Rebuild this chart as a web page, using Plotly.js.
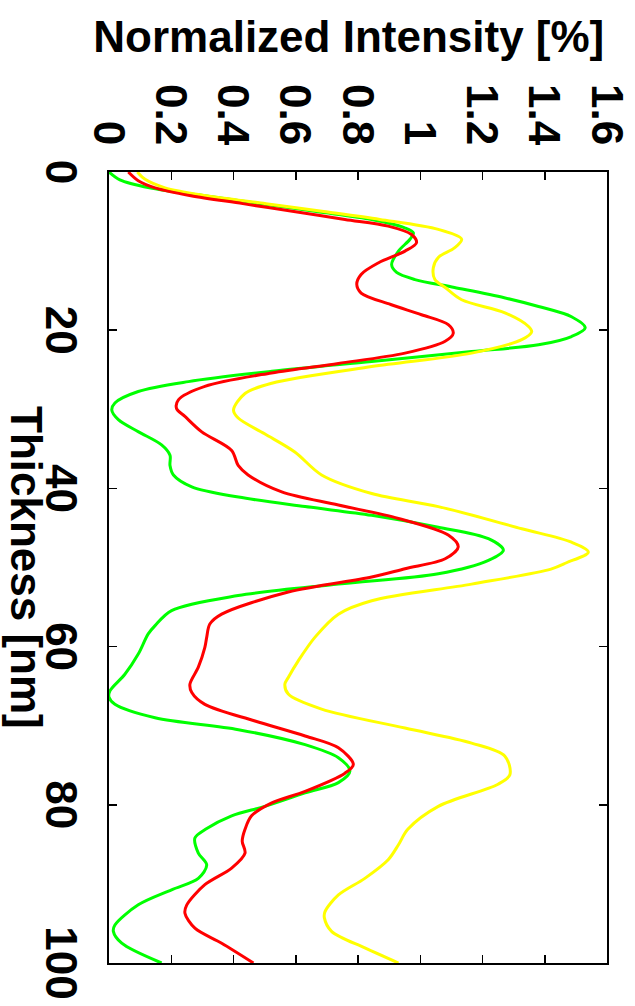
<!DOCTYPE html>
<html>
<head>
<meta charset="utf-8">
<script src="https://cdn.plot.ly/plotly-3.0.1.min.js"></script>
<style>
  html, body { margin: 0; padding: 0; background: #ffffff; width: 635px; height: 1006px; overflow: hidden; }
  #chart { position: absolute; left: 0; top: 0; width: 1006px; height: 635px;
           transform-origin: 0 0; transform: translate(635px, 0) rotate(90deg); }
</style>
</head>
<body>
<div id="chart"></div>
<script>
// Data (Thickness in nm, Normalized Intensity in %)
const thicknessGreen = [0, 1, 2, 3, 4, 5, 6, 7.05, 7.7, 8.5, 10, 11.7, 12.7, 13.6, 14.6, 15.9, 17, 18.3, 19.7, 20.8, 21.85, 22.7, 23.95, 25.2, 26.5, 27.75, 29.2, 30.1, 31.3, 32.85, 34.5, 35.8, 37.1, 38.3, 39.8, 41.1, 42.3, 43.4, 44.9, 46.35, 47.8, 49.1, 50.8, 52.1, 53.55, 55.45, 57.35, 58.4, 60.95, 63.5, 65.6, 66.4, 67.3, 69, 70.5, 72.4, 74.05, 75.75, 77.2, 78.5, 80.2, 81.4, 83.1, 84.2, 86.1, 87.6, 89.3, 90.75, 92.65, 95.2, 96.0, 97.5, 100];
const intensityGreen = [0.0, 0.035, 0.13, 0.307, 0.488, 0.666, 0.844, 0.95, 0.978, 0.967, 0.93, 0.908, 0.924, 0.983, 1.11, 1.27, 1.38, 1.486, 1.53, 1.486, 1.38, 1.165, 0.844, 0.523, 0.255, 0.094, 0.019, 0.009, 0.03, 0.095, 0.169, 0.196, 0.196, 0.207, 0.266, 0.416, 0.63, 0.844, 1.058, 1.219, 1.267, 1.219, 1.058, 0.737, 0.415, 0.201, 0.148, 0.126, 0.094, 0.051, 0.003, 0.0, 0.019, 0.148, 0.416, 0.63, 0.737, 0.774, 0.737, 0.63, 0.501, 0.394, 0.31, 0.276, 0.287, 0.314, 0.287, 0.201, 0.094, 0.019, 0.014, 0.041, 0.169];

const thicknessRed = [0, 1.1, 2, 3, 4, 5, 6, 6.84, 7.9, 8.95, 10, 11.5, 12.95, 14.2, 15.3, 16.75, 18.05, 19.3, 20.4, 21.4, 22.9, 24.2, 25.4, 27.1, 28.8, 29.9, 30.9, 32.85, 35.2, 37.1, 38.3, 40.45, 42.1, 43.8, 45.9, 47.4, 48.9, 50.15, 51.2, 53.1, 55.9, 57.15, 58.8, 60.1, 62.6, 64.75, 65.8, 67.3, 69.4, 71.3, 72.8, 74.9, 76, 78.3, 79.75, 81.4, 83.1, 84.6, 86.1, 88, 90.1, 92.65, 93.7, 95.6, 97.5, 100];
const intensityRed = [0.062, 0.094, 0.148, 0.263, 0.43, 0.594, 0.758, 0.897, 0.972, 0.988, 0.951, 0.865, 0.81, 0.796, 0.81, 0.905, 1.004, 1.09, 1.106, 1.08, 0.951, 0.737, 0.522, 0.308, 0.223, 0.217, 0.244, 0.298, 0.394, 0.415, 0.447, 0.555, 0.737, 0.93, 1.09, 1.122, 1.08, 0.951, 0.844, 0.576, 0.362, 0.324, 0.314, 0.308, 0.287, 0.26, 0.266, 0.308, 0.469, 0.63, 0.737, 0.785, 0.758, 0.63, 0.523, 0.458, 0.437, 0.428, 0.437, 0.394, 0.308, 0.25, 0.244, 0.276, 0.362, 0.464];

const thicknessYellow = [0, 0.93, 2, 3, 4, 5, 6, 7.26, 8.5, 9.6, 10.8, 12.1, 13.6, 14.6, 16.15, 17.8, 19.5, 20.2, 21.2, 22.9, 24.6, 26.7, 28, 30.1, 31.1, 33.1, 35.4, 38.3, 40.65, 42.3, 45.1, 46.8, 48.05, 49.4, 50.2, 52.1, 54.2, 55.9, 58.8, 61.8, 63.9, 64.75, 66, 67.9, 70.3, 72.2, 73.85, 76.2, 77.4, 80.2, 83.1, 85.05, 86.95, 89.3, 91.4, 93.5, 94.3, 96, 98.1, 100];
const intensityYellow = [0.091, 0.116, 0.18, 0.313, 0.504, 0.69, 0.87, 1.058, 1.133, 1.11, 1.058, 1.042, 1.047, 1.08, 1.133, 1.272, 1.347, 1.358, 1.326, 1.165, 0.844, 0.523, 0.437, 0.40, 0.415, 0.50, 0.597, 0.683, 0.844, 1.058, 1.326, 1.486, 1.54, 1.47, 1.42, 1.165, 0.844, 0.737, 0.662, 0.608, 0.576, 0.565, 0.576, 0.683, 0.951, 1.165, 1.272, 1.288, 1.25, 1.058, 0.96, 0.93, 0.897, 0.822, 0.737, 0.694, 0.692, 0.715, 0.822, 0.93];

const thicknessTicks = [0, 20, 40, 60, 80, 100];
const intensityTicks = [0, 0.2, 0.4, 0.6, 0.8, 1, 1.2, 1.4, 1.6];
const intensityTickText = ['0', '0.2', '0.4', '0.6', '0.8', '1', '1.2', '1.4', '1.6'];

const xTitle = 'Thickness [nm]';
const yTitle = 'Normalized Intensity [%]';

function trace(x, y, color) {
  return { x: x, y: y, type: 'scatter', mode: 'lines',
           line: { color: color, width: 3, shape: 'spline', smoothing: 0.9 },
           hoverinfo: 'skip', showlegend: false };
}

const data = [
  trace(thicknessGreen, intensityGreen, '#00ff00'),
  trace(thicknessYellow, intensityYellow, '#ffff00'),
  trace(thicknessRed, intensityRed, '#ff0000')
];

const fnt = { family: 'Liberation Sans, Arial, sans-serif', size: 44, color: '#000000', weight: 'bold' };

const layout = {
  width: 1006, height: 635,
  margin: { l: 172, r: 43, t: 28, b: 109, pad: 0 },
  paper_bgcolor: '#ffffff', plot_bgcolor: '#ffffff',
  showlegend: false,
  font: fnt,
  xaxis: {
    range: [0, 100], tickvals: thicknessTicks, ticktext: thicknessTicks.map(String),
    ticks: 'inside', ticklen: 8, tickwidth: 1.5, tickcolor: '#000000',
    showline: true, linecolor: '#000000', linewidth: 2, mirror: 'ticks',
    showgrid: false, zeroline: false, tickfont: fnt, ticklabelstandoff: 8
  },
  yaxis: {
    range: [0, 1.6], tickvals: intensityTicks, ticktext: intensityTickText,
    ticks: 'inside', ticklen: 8, tickwidth: 1.5, tickcolor: '#000000',
    showline: true, linecolor: '#000000', linewidth: 2, mirror: 'ticks',
    showgrid: false, zeroline: false, tickfont: fnt, ticklabelstandoff: 16
  },
  annotations: [
    { text: xTitle, xref: 'paper', yref: 'paper', x: 0.5, y: -0.1647, xanchor: 'center', yanchor: 'middle',
      showarrow: false, font: fnt, borderpad: 0 },
    { text: yTitle, xref: 'paper', yref: 'paper', x: -0.171, y: 0.482, xanchor: 'center', yanchor: 'middle',
      textangle: -90, showarrow: false, font: fnt, borderpad: 0 }
  ]
};

Plotly.newPlot('chart', data, layout, { displayModeBar: false, staticPlot: true });
</script>
</body>
</html>
